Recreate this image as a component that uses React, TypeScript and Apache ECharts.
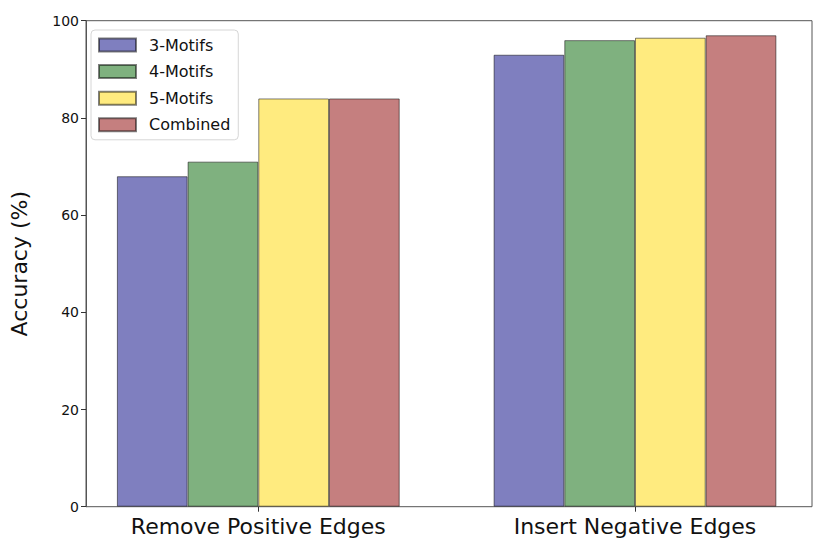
import React, { useEffect, useRef } from "react";
import * as echarts from "echarts";

const categories = ["Remove Positive Edges", "Insert Negative Edges"];
const seriesNames = ["3-Motifs", "4-Motifs", "5-Motifs", "Combined"];
const motif3 = [68, 93];
const motif4 = [71, 96];
const motif5 = [84, 96.5];
const combined = [84, 97];
const yTicks = [0, 20, 40, 60, 80, 100];
const colors = ["#7f7fbf", "#7fb17f", "#ffeb7f", "#c57f7f"];

export default function App() {
  const ref = useRef<HTMLDivElement>(null);
  useEffect(() => {
    document.body.style.margin = "0";
    const chart = echarts.init(ref.current!, null, { renderer: "svg" });
    const font = "DejaVu Sans";
    const values = [motif3, motif4, motif5, combined];
    const top = 20.7;
    const height = 486;
    chart.setOption({
      animation: false,
      textStyle: { fontFamily: font },
      grid: [
        { left: 81, top, width: 731, height, show: true, borderColor: "#555", borderWidth: 1, backgroundColor: "transparent" },
        { left: 69.95, top, width: 753.4, height, show: false },
      ],
      xAxis: [
        { type: "value", gridIndex: 0, show: false, min: 0, max: 1 },
        {
          type: "category",
          gridIndex: 1,
          data: categories,
          axisLine: { show: false },
          axisTick: { show: true, alignWithLabel: true, length: 5, lineStyle: { color: "#333" } },
          axisLabel: { fontSize: 22, color: "#111", margin: 9, fontFamily: font },
        },
      ],
      yAxis: [
        {
          type: "value",
          gridIndex: 0,
          min: yTicks[0],
          max: yTicks[yTicks.length - 1],
          interval: 20,
          splitLine: { show: false },
          axisLine: { show: true, lineStyle: { color: "#555" } },
          axisTick: { show: true, length: 5, lineStyle: { color: "#333" } },
          axisLabel: { fontSize: 14, color: "#111", margin: 7, fontFamily: font },
          name: "Accuracy (%)",
          nameLocation: "middle",
          nameGap: 56,
          nameTextStyle: { fontSize: 22, color: "#111", fontFamily: font },
        },
        { type: "value", gridIndex: 1, min: 0, max: 100, show: false },
      ],
      legend: {
        orient: "vertical",
        left: 91,
        top: 30,
        padding: [7, 8, 7, 7],
        icon: "rect",
        itemWidth: 37,
        itemHeight: 13,
        itemGap: 10.6,
        backgroundColor: "#fff",
        borderColor: "#d6d6d6",
        borderWidth: 1,
        borderRadius: 4,
        textStyle: { fontSize: 16, color: "#111", fontFamily: font, padding: [0, 0, 0, 8] },
        data: seriesNames,
      },
      series: seriesNames.map((name, i) => ({
        name,
        type: "bar",
        xAxisIndex: 1,
        yAxisIndex: 1,
        data: values[i],
        barWidth: 70.7,
        barGap: "0%",
        itemStyle: { color: colors[i], borderColor: "rgba(0,0,0,0.5)", borderWidth: 1 },
      })),
    });
    return () => chart.dispose();
  }, []);
  return <div ref={ref} style={{ width: 830, height: 554 }} />;
}
